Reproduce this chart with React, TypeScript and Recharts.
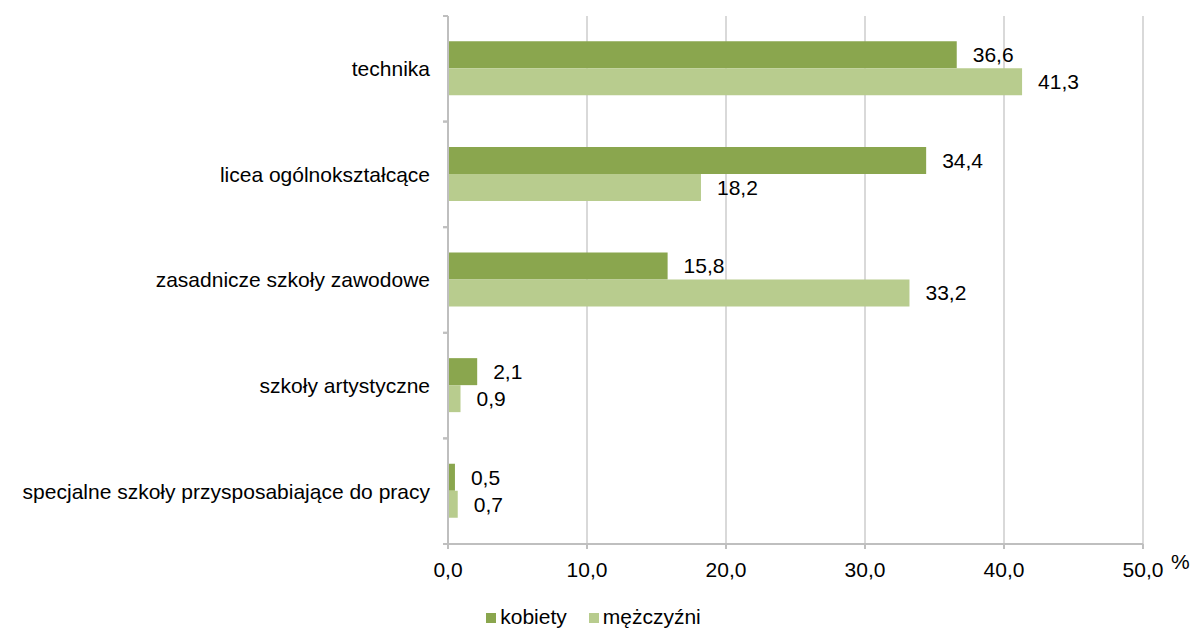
import React from "react";
import {
  BarChart,
  Bar,
  XAxis,
  YAxis,
  CartesianGrid,
  Legend,
  LabelList
} from "recharts";

const categories = [
  "technika",
  "licea ogólnokształcące",
  "zasadnicze szkoły zawodowe",
  "szkoły artystyczne",
  "specjalne szkoły przysposabiające do pracy"
];
const kobiety = [36.6, 34.4, 15.8, 2.1, 0.5];
const mezczyzni = [41.3, 18.2, 33.2, 0.9, 0.7];
const xTicks = [0, 10, 20, 30, 40, 50];

const data = categories.map((name, i) => ({
  name,
  kobiety: kobiety[i],
  mezczyzni: mezczyzni[i]
}));

const FONT = "'Liberation Sans', Arial, sans-serif";
const AXIS = "#bfbfbf";
const GRID = "#d9d9d9";
const DARK = "#8aa64e";
const LIGHT = "#b8cc8e";

const fmt = (v: number) => v.toFixed(1).replace(".", ",");

// category label + tick marks on the band edges (not the centre)
function CategoryTick(props: any) {
  const { x, y, payload } = props;
  const half = payload.offset ?? 0;
  const axisX = x + 18;
  return (
    <g>
      <line x1={axisX - 5} x2={axisX} y1={y - half} y2={y - half} stroke={AXIS} strokeWidth={2} />
      <line x1={axisX - 5} x2={axisX} y1={y + half} y2={y + half} stroke={AXIS} strokeWidth={2} />
      <text x={x} y={y} dy="0.355em" textAnchor="end" fill="#000" fontSize={21} fontFamily={FONT}>
        {payload.value}
      </text>
    </g>
  );
}

export default function App() {
  return (
    <div style={{ position: "absolute", left: 0, top: 0, background: "#fff" }}>
      <BarChart
        width={1195}
        height={628}
        data={data}
        layout="vertical"
        margin={{ top: 16, right: 52, bottom: 20, left: 0 }}
        barCategoryGap="24%"
        barGap={0}
        style={{ fontFamily: FONT }}
      >
        <CartesianGrid horizontal={false} stroke={GRID} strokeWidth={2} />
        <XAxis
          type="number"
          domain={[0, 50]}
          ticks={xTicks}
          tickFormatter={fmt}
          axisLine={{ stroke: AXIS, strokeWidth: 2 }}
          tickLine={{ stroke: AXIS, strokeWidth: 2 }}
          tickSize={5}
          tickMargin={13}
          height={40}
          tick={{ fill: "#000", fontSize: 21, fontFamily: FONT }}
          label={{ value: "%", position: "right", offset: 28, fill: "#000", fontSize: 21, dy: -2 }}
        />
        <YAxis
          type="category"
          dataKey="name"
          width={448}
          axisLine={{ stroke: AXIS, strokeWidth: 2 }}
          tickLine={false}
          tickSize={5}
          tickMargin={13}
          tick={<CategoryTick />}
          interval={0}
        />
        <Legend
          verticalAlign="bottom"
          align="center"
          iconType="square"
          iconSize={10}
          wrapperStyle={{ top: 605, left: 33, fontFamily: FONT, fontSize: 21 }}
          formatter={(value: string) => (
            <span style={{ color: "#000", marginRight: 12 }}>{value}</span>
          )}
        />
        <Bar dataKey="kobiety" name="kobiety" fill={DARK} isAnimationActive={false}>
          <LabelList dataKey="kobiety" position="right" offset={16} formatter={(v: any) => fmt(Number(v))} fill="#000" fontSize={21} fontFamily={FONT} />
        </Bar>
        <Bar dataKey="mezczyzni" name="mężczyźni" fill={LIGHT} isAnimationActive={false}>
          <LabelList dataKey="mezczyzni" position="right" offset={16} formatter={(v: any) => fmt(Number(v))} fill="#000" fontSize={21} fontFamily={FONT} />
        </Bar>
      </BarChart>
    </div>
  );
}
